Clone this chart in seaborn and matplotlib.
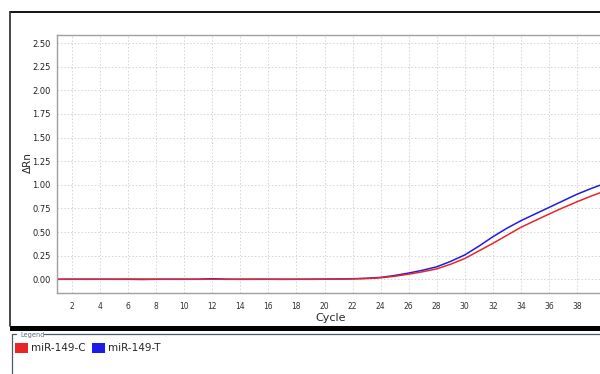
import numpy as np
import pandas as pd
import matplotlib
matplotlib.use("Agg")
import matplotlib.pyplot as plt
import seaborn as sns
from matplotlib.patches import Rectangle, Patch
from matplotlib.lines import Line2D

# ---- data ----
cycles = list(range(1, 41))
mir149_c = [0.000, 0.000, 0.001, 0.000, 0.001, 0.002, 0.002, 0.001, 0.000, 0.001,
            0.000, 0.001, 0.000, 0.000, 0.001, 0.000, 0.000, 0.001, 0.000, 0.001,
            0.002, 0.004, 0.008, 0.016, 0.032, 0.054, 0.080, 0.110, 0.160, 0.220,
            0.300, 0.380, 0.465, 0.550, 0.620, 0.690, 0.757, 0.820, 0.880, 0.935]
mir149_t = [0.000, 0.001, 0.000, 0.001, 0.000, 0.000, -0.002, 0.000, 0.001, 0.000,
            0.001, 0.006, 0.001, 0.000, 0.000, 0.001, 0.000, 0.000, 0.001, 0.002,
            0.003, 0.006, 0.011, 0.020, 0.040, 0.066, 0.096, 0.132, 0.190, 0.258,
            0.350, 0.450, 0.540, 0.620, 0.690, 0.760, 0.830, 0.900, 0.960, 1.015]
series_names = ["miR-149-C", "miR-149-T"]
series_colors = ["#e8262a", "#1c1ce6"]
y_ticks = [0.00, 0.25, 0.50, 0.75, 1.00, 1.25, 1.50, 1.75, 2.00, 2.25, 2.50]
x_ticks = list(range(2, 40, 2))

df = pd.DataFrame({
    "Cycle": cycles * 2,
    "dRn": mir149_c + mir149_t,
    "Target": [series_names[0]] * len(cycles) + [series_names[1]] * len(cycles),
})

W, H = 600, 374
sns.set_style("white")
plt.rcParams["font.family"] = ["DejaVu Sans"]
fig = plt.figure(figsize=(6.0, 3.74), dpi=100)

def fx(x):
    return x / W

def fy(y):
    return 1 - y / H

ax = fig.add_axes([fx(57), fy(293), fx(600) - fx(57), fy(35) - fy(293)])
palette = dict(zip(series_names, series_colors))
sns.lineplot(data=df, x="Cycle", y="dRn", hue="Target",
             hue_order=[series_names[1], series_names[0]],
             palette=palette, linewidth=1.1, ax=ax, legend=False)

ax.set_xlim(0.93, 39.64)
ax.set_ylim(-0.145, 2.585)
ax.set_xticks(x_ticks)
ax.set_yticks(y_ticks)
ax.set_xticklabels([str(t) for t in x_ticks], fontsize=5.5, color="#303030")
ax.set_yticklabels([f"{t:.2f}" for t in y_ticks], fontsize=6, color="#202020")
ax.tick_params(axis="both", length=2.5, width=0.6, color="#909090", pad=2)
ax.tick_params(axis="x", pad=4)
ax.grid(True, color="#d4d4d4", linestyle=(0, (1.5, 2)), linewidth=0.7)
for s in ["left", "bottom", "top"]:
    ax.spines[s].set_color("#a0a0a0")
    ax.spines[s].set_linewidth(1.0)
ax.spines["right"].set_visible(False)
ax.set_xlabel("Cycle", fontsize=8)
ax.set_ylabel("ΔRn", fontsize=7.5)
ax.xaxis.set_label_coords((331 - 57) / (600 - 57), -(313 - 293) / (293 - 35))
ax.yaxis.set_label_coords(-(57 - 33) / (600 - 57), (293 - 163) / (293 - 35))

# outer frame
fig.add_artist(Line2D([fx(10), fx(602)], [fy(12), fy(12)], color="black", lw=1.3))
fig.add_artist(Line2D([fx(10), fx(10)], [fy(12), fy(326)], color="#3a3a3a", lw=1.3))
# thick separator bar
fig.add_artist(Rectangle((fx(10), fy(330.5)), fx(602) - fx(10), fy(325.5) - fy(330.5),
                         transform=fig.transFigure, color="black", lw=0))
# legend group box
box_col = "#4c5a6e"
fig.add_artist(Line2D([fx(12), fx(12)], [fy(334), fy(376)], color=box_col, lw=0.9))
fig.add_artist(Line2D([fx(12), fx(16)], [fy(334), fy(334)], color=box_col, lw=0.9))
fig.add_artist(Line2D([fx(44), fx(602)], [fy(334), fy(334)], color=box_col, lw=0.9))
fig.text(fx(20), fy(334.5), "Legend", fontsize=4.8, color="#5a6a80", va="center", ha="left")

handles = [Patch(facecolor=c, edgecolor="none", label=n)
           for n, c in zip(series_names, series_colors)]
fig.legend(handles=handles, loc="upper left", bbox_to_anchor=(fx(13), fy(340.5)),
           ncol=2, frameon=False, fontsize=7.5, handlelength=1.2, handleheight=1.2,
           handletextpad=0.35, columnspacing=0.6, borderaxespad=0, borderpad=0.2)

fig.savefig("out.png", dpi=100)
